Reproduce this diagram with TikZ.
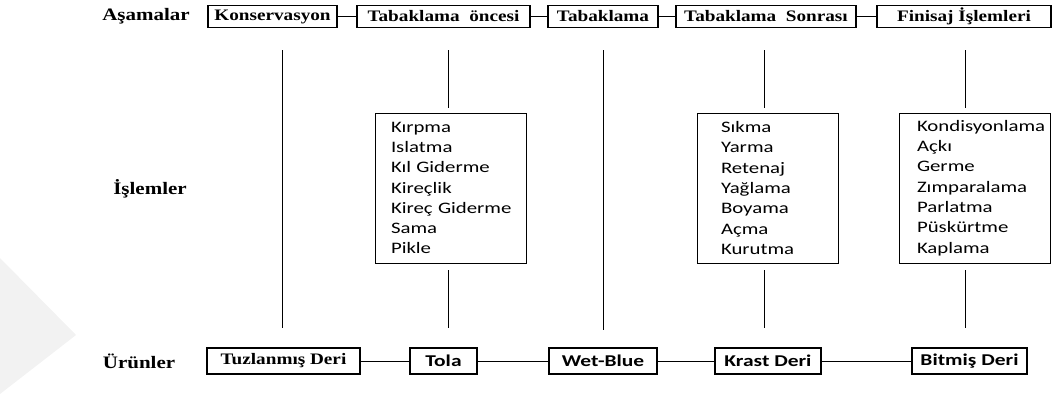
\documentclass[tikz,border=0pt]{standalone}
\usepackage{fontspec}
\setmainfont{Liberation Serif}
\newfontfamily\headfont[FakeStretch=1.2]{Liberation Serif}
\newfontfamily\listfont[FakeStretch=1.3]{Carlito}
\usepackage{tikz}

\begin{document}
\begin{tikzpicture}[x=1pt, y=-1pt,
  every node/.style={align=center, inner sep=0pt},
  stage/.style={draw, line width=1.3pt, minimum height=22pt, font=\headfont\bfseries\fontsize{16}{18}\selectfont},
  rowlabel/.style={font=\headfont\bfseries\fontsize{17.5}{19}\selectfont},
  workbox/.style={draw, line width=1pt, minimum height=150pt, align=left, font=\listfont\fontsize{16}{20.3}\selectfont},
  product/.style={draw, line width=1.5pt, minimum height=26pt, font=\listfont\bfseries\fontsize{16.5}{18}\selectfont},
  link/.style={line width=1pt}]
\useasboundingbox (0,0) rectangle (1060,394);
\fill[black!5] (0,258) -- (76,335) -- (0,394) -- cycle;

% Row labels
\node[rowlabel] (asama) at (146,16) {Aşamalar};
\node[rowlabel] (islem) at (150,189) {İşlemler};
\node[rowlabel] (urun) at (139,361) {Ürünler};

% Stages
\node[stage, minimum width=129pt] (kons) at (272.5,16.5) {Konservasyon};
\node[stage, minimum width=173pt] (tonce) at (443.5,16.5) {Tabaklama~ öncesi};
\node[stage, minimum width=110pt] (tab) at (603,16.5) {Tabaklama};
\node[stage, minimum width=180pt] (tsonra) at (766,16.5) {Tabaklama~ Sonrası};
\node[stage, minimum width=174pt] (finis) at (964,16.5) {Finisaj İşlemleri};

% Processes
\node[workbox, text width=151pt] (ponce) at (450.5,188)
  {\leftskip=16pt Kırpma\\Islatma\\Kıl Giderme\\Kireçlik\\Kireç Giderme\\Sama\\Pikle\par};
\node[workbox, text width=141pt] (psonra) at (767.5,188)
  {\leftskip=24pt Sıkma\\Yarma\\Retenaj\\Yağlama\\Boyama\\Açma\\Kurutma\par};
\node[workbox, text width=151pt] (pfinis) at (974.5,188)
  {\leftskip=18pt Kondisyonlama\\Açkı\\Germe\\Zımparalama\\Parlatma\\Püskürtme\\Kaplama\par};

% Products
\node[product, minimum width=153pt, font=\headfont\bfseries\fontsize{16}{18}\selectfont] (tuz) at (283.5,361) {Tuzlanmış Deri};
\node[product, minimum width=67pt] (tola) at (443.5,361) {Tola};
\node[product, minimum width=108pt] (wet) at (603,361) {Wet-Blue};
\node[product, minimum width=106pt] (krast) at (768,361) {Krast Deri};
\node[product, minimum width=115pt] (bitmis) at (969.5,361) {Bitmiş Deri};

% Line ends
\coordinate (k1) at (282,50);  \coordinate (k2) at (282,328);
\coordinate (o1) at (448,50);  \coordinate (o2) at (448,108);
\coordinate (o3) at (448,270); \coordinate (o4) at (448,328);
\coordinate (t1) at (603,50);  \coordinate (t2) at (603,330);
\coordinate (s1) at (764,50);  \coordinate (s2) at (764,108);
\coordinate (s3) at (764,270); \coordinate (s4) at (764,328);
\coordinate (f1) at (965,50);  \coordinate (f2) at (965,108);
\coordinate (f3) at (965,270); \coordinate (f4) at (965,328);

% Lines
\draw[link] (kons) -- (tonce);
\draw[link] (tonce) -- (tab);
\draw[link] (tab) -- (tsonra);
\draw[link] (tsonra) -- (finis);
\draw[link] (k1) -- (k2);
\draw[link] (o1) -- (o2);
\draw[link] (o3) -- (o4);
\draw[link] (t1) -- (t2);
\draw[link] (s1) -- (s2);
\draw[link] (s3) -- (s4);
\draw[link] (f1) -- (f2);
\draw[link] (f3) -- (f4);
\draw[link] (tuz) -- (tola);
\draw[link] (tola) -- (wet);
\draw[link] (wet) -- (krast);
\draw[link] (krast) -- (bitmis);
\end{tikzpicture}
\end{document}
